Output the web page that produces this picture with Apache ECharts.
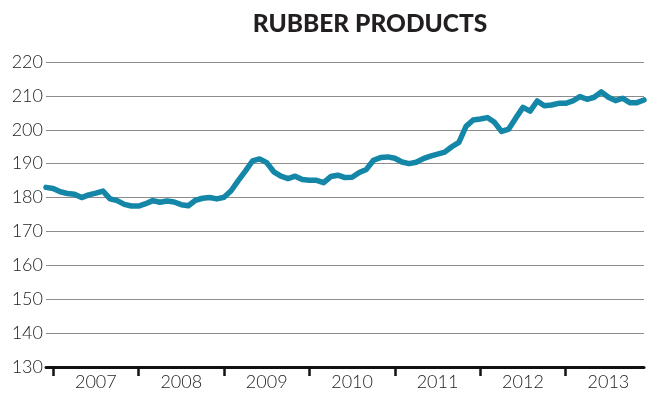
<!DOCTYPE html>
<html>
<head>
<meta charset="utf-8">
<script src="https://cdn.jsdelivr.net/npm/echarts@6/dist/echarts.min.js"></script>
<style>
html,body{margin:0;padding:0;background:#fff;}
#chart{width:657px;height:397px;}
</style>
</head>
<body>
<div id="chart"></div>
<script>
// Monthly categories: Dec 2006 .. Dec 2013
const years = ['2007','2008','2009','2010','2011','2012','2013'];
const months = ['2006-12'];
years.forEach(y => { for (let m = 1; m <= 12; m++) months.push(y + '-' + String(m).padStart(2, '0')); });

const values = [
  183.0, 182.7, 181.7, 181.2, 181.0, 180.0, 180.8, 181.3, 181.9, 179.6,
  179.1, 178.0, 177.5, 177.5, 178.2, 179.1, 178.6, 179.0, 178.7, 177.9,
  177.6, 179.2, 179.8, 180.0, 179.6, 180.1, 182.0, 185.0, 187.8, 190.8,
  191.4, 190.3, 187.6, 186.3, 185.6, 186.3, 185.3, 185.1, 185.1, 184.4,
  186.2, 186.6, 185.9, 186.0, 187.4, 188.3, 191.0, 191.8, 192.0, 191.6,
  190.5, 190.0, 190.4, 191.5, 192.2, 192.8, 193.4, 195.0, 196.3, 201.0,
  202.9, 203.2, 203.6, 202.2, 199.5, 200.2, 203.5, 206.6, 205.5, 208.5,
  207.1, 207.3, 207.8, 207.8, 208.5, 209.8, 209.0, 209.6, 211.2, 209.6,
  208.6, 209.3, 208.0, 208.0, 208.8
];

const yTicks = [130, 140, 150, 160, 170, 180, 190, 200, 210, 220];
const title = 'RUBBER PRODUCTS';

const labelFont = 'Lato, "Open Sans", sans-serif';

const chart = echarts.init(document.getElementById('chart'), null, {renderer: 'canvas'});
chart.setOption({
  animation: false,
  backgroundColor: '#ffffff',
  title: {
    text: title,
    left: 365, top: 7, textAlign: 'center',
    textStyle: {fontFamily: 'Lato, "Open Sans", sans-serif', fontWeight: 900, fontSize: 24.5, color: '#231f20'}
  },
  grid: {left: 46, right: 13, top: 62, bottom: 30, containLabel: false},
  xAxis: {
    type: 'category',
    data: months,
    boundaryGap: false,
    axisLine: {show: true, lineStyle: {color: '#111', width: 3}},
    axisTick: {
      show: true,
      interval: (i) => i % 12 === 1,
      length: 9,
      inside: false,
      lineStyle: {color: '#111', width: 2.5}
    },
    axisLabel: {
      interval: (i) => i % 12 === 7,
      formatter: (v) => v.slice(0, 4),
      margin: 6,
      fontFamily: labelFont,
      fontWeight: 300,
      fontSize: 18,
      color: '#222'
    },
    splitLine: {show: false}
  },
  yAxis: {
    type: 'value',
    min: yTicks[0],
    max: yTicks[yTicks.length - 1],
    interval: 10,
    axisLine: {show: false},
    axisTick: {show: false},
    axisLabel: {
      margin: 3,
      fontFamily: labelFont,
      fontWeight: 300,
      fontSize: 18,
      color: '#222'
    },
    splitLine: {show: true, lineStyle: {color: '#8c8c8c', width: 1}}
  },
  series: [{
    type: 'line',
    data: values,
    symbol: 'none',
    smooth: false,
    lineStyle: {color: '#1486a8', width: 5.5, cap: 'round', join: 'round'},
    z: 5
  }]
});
</script>
</body>
</html>
